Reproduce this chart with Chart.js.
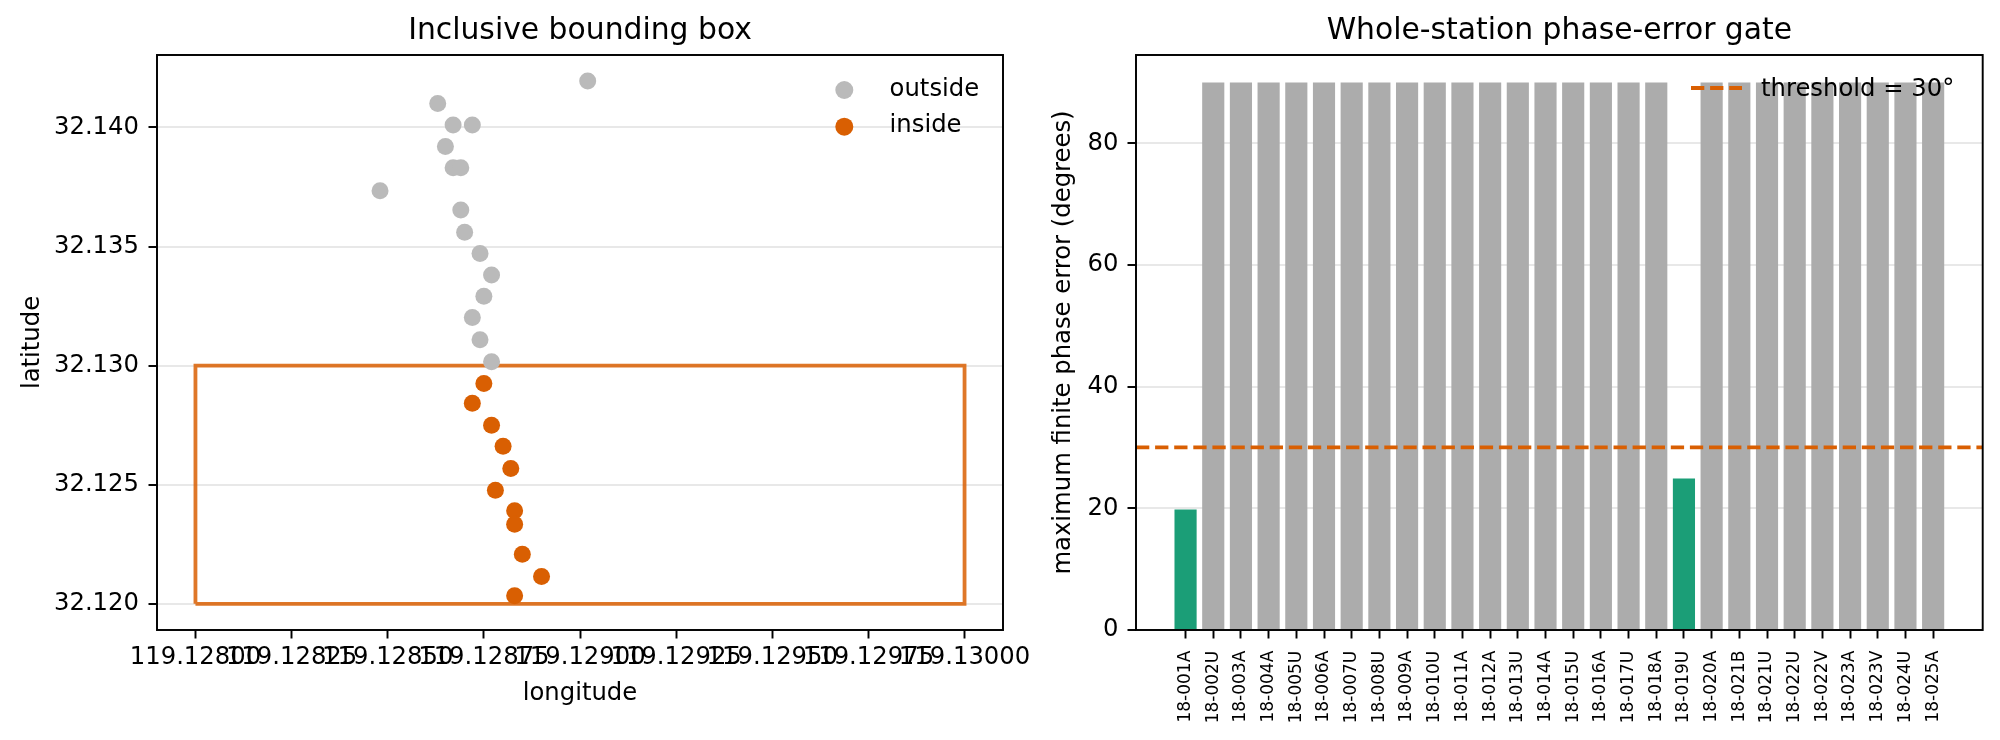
<!DOCTYPE html>
<html>
<head>
<meta charset="utf-8">
<script src="https://cdn.jsdelivr.net/npm/chart.js@4.4.1/dist/chart.umd.min.js"></script>
<style>
html, body { margin: 0; padding: 0; background: #ffffff; width: 2000px; height: 740px; overflow: hidden; }
#c1 { position: absolute; left: 0; top: 0; }
#c2 { position: absolute; left: 1020px; top: 0; }
</style>
</head>
<body>
<canvas id="c1" width="1060" height="740"></canvas>
<canvas id="c2" width="980" height="740"></canvas>
<script>
// ---------------- data: left panel ----------------
const outsideLon = [119.12902, 119.12863, 119.12867, 119.12872, 119.12865, 119.12867, 119.12869, 119.12848,
                    119.12869, 119.12870, 119.12874, 119.12877, 119.12875, 119.12872, 119.12874, 119.12877];
const outsideLat = [32.14195, 32.14100, 32.14010, 32.14010, 32.13920, 32.13831, 32.13831, 32.13734,
                    32.13653, 32.13560, 32.13471, 32.13380, 32.13291, 32.13202, 32.13109, 32.13016];
const insideLon = [119.12875, 119.12872, 119.12877, 119.12880, 119.12882, 119.12878,
                   119.12883, 119.12883, 119.12885, 119.12890, 119.12883];
const insideLat = [32.12925, 32.12842, 32.12750, 32.12661, 32.12568, 32.12477,
                   32.12391, 32.12334, 32.12208, 32.12115, 32.12034];
const boxLon = [119.128, 119.130, 119.130, 119.128, 119.128];
const boxLat = [32.120, 32.120, 32.130, 32.130, 32.120];
const lonTicks = [119.128, 119.12825, 119.1285, 119.12875, 119.129, 119.12925, 119.1295, 119.12975, 119.130];
const lonTickLabels = ['119.12800', '119.12825', '119.12850', '119.12875', '119.12900', '119.12925', '119.12950', '119.12975', '119.13000'];
const latTicks = [32.120, 32.125, 32.130, 32.135, 32.140];
const latTickLabels = ['32.120', '32.125', '32.130', '32.135', '32.140'];
const lonMin = 119.1279, lonMax = 119.1301;
const latMin = 32.1189, latMax = 32.14304;

// ---------------- data: right panel ----------------
const stations = ['18-001A','18-002U','18-003A','18-004A','18-005U','18-006A','18-007U','18-008U','18-009A',
                  '18-010U','18-011A','18-012A','18-013U','18-014A','18-015U','18-016A','18-017U','18-018A',
                  '18-019U','18-020A','18-021B','18-021U','18-022U','18-022V','18-023A','18-023V','18-024U','18-025A'];
const maxPhaseError = [19.8, 90, 90, 90, 90, 90, 90, 90, 90,
                       90, 90, 90, 90, 90, 90, 90, 90, 90,
                       24.9, 90, 90, 90, 90, 90, 90, 90, 90, 90];
const threshold = 30;
const phaseTicks = [0, 20, 40, 60, 80];
const phaseTickLabels = ['0', '20', '40', '60', '80'];
const barXMin = -1.79, barXMax = 28.79;
const phaseMin = 0, phaseMax = 94.5;

// ---------------- styles ----------------
const FAM = 'DejaVu Sans';
const TICK_PX = 24.3, TITLE_PX = 29.8, SMALL_PX = 17;
const C_GREY_PT = '#bababa', C_ORANGE = '#d95f02', C_BOX = 'rgba(217,95,2,0.85)';
const C_BAR_GREY = '#acacac', C_GREEN = '#1b9e77', C_GRID = '#e8e8e8';

Chart.defaults.font.family = FAM;
Chart.defaults.color = '#000';

const framePlugin = {
  id: 'frame',
  afterDatasetsDraw(chart) {
    const { ctx, chartArea: a } = chart;
    ctx.save();
    ctx.strokeStyle = '#000';
    ctx.lineWidth = 1.94;
    ctx.strokeRect(a.left, a.top, a.right - a.left, a.bottom - a.top);
    ctx.restore();
  }
};

const leftLegend = {
  id: 'leftLegend',
  afterDraw(chart) {
    const { ctx, chartArea: a } = chart;
    const items = [
      { label: chart.data.datasets[0].label, color: chart.data.datasets[0].backgroundColor },
      { label: chart.data.datasets[1].label, color: chart.data.datasets[1].backgroundColor }
    ];
    ctx.save();
    ctx.font = TICK_PX + 'px "' + FAM + '"';
    ctx.textBaseline = 'middle';
    ctx.textAlign = 'left';
    items.forEach((it, i) => {
      const y = a.top + 35 + i * 36.7;
      ctx.fillStyle = it.color;
      ctx.beginPath();
      ctx.arc(a.right - 158.7, y, 9, 0, Math.PI * 2);
      ctx.fill();
      ctx.fillStyle = '#000';
      ctx.fillText(it.label, a.right - 113.4, y - 0.7);
    });
    ctx.restore();
  }
};

const rightLegend = {
  id: 'rightLegend',
  afterDraw(chart) {
    const { ctx, chartArea: a } = chart;
    const ds = chart.data.datasets[0];
    ctx.save();
    ctx.strokeStyle = ds.borderColor;
    ctx.lineWidth = ds.borderWidth;
    ctx.setLineDash(ds.borderDash);
    ctx.beginPath();
    ctx.moveTo(a.right - 291.7, a.top + 33);
    ctx.lineTo(a.right - 240.7, a.top + 33);
    ctx.stroke();
    ctx.setLineDash([]);
    ctx.font = TICK_PX + 'px "' + FAM + '"';
    ctx.textBaseline = 'middle';
    ctx.textAlign = 'left';
    ctx.fillStyle = '#000';
    ctx.fillText(ds.label, a.right - 221.7, a.top + 34.3);
    ctx.restore();
  }
};

const tickFont = { family: FAM, size: TICK_PX };

// ---------------- left chart ----------------
new Chart(document.getElementById('c1'), {
  type: 'scatter',
  data: {
    datasets: [
      { label: 'outside', data: outsideLon.map((x, i) => ({ x: x, y: outsideLat[i] })),
        backgroundColor: C_GREY_PT, borderWidth: 0, pointRadius: 8.5, pointHoverRadius: 8.5, order: 0 },
      { label: 'inside', data: insideLon.map((x, i) => ({ x: x, y: insideLat[i] })),
        backgroundColor: C_ORANGE, borderWidth: 0, pointRadius: 8.5, pointHoverRadius: 8.5, order: 0 },
      { label: 'box', type: 'line', data: boxLon.map((x, i) => ({ x: x, y: boxLat[i] })),
        borderColor: C_BOX, borderWidth: 3.8, pointRadius: 0, fill: false, showLine: true, tension: 0, order: 1 }
    ]
  },
  options: {
    responsive: false, animation: false, devicePixelRatio: 1,
    layout: { padding: { left: 0, right: 57, top: 0, bottom: 0 } },
    plugins: {
      legend: { display: false },
      tooltip: { enabled: false },
      title: { display: true, text: 'Inclusive bounding box', fullSize: false, color: '#000',
               font: { family: FAM, size: TITLE_PX, weight: 'normal' }, padding: { top: 13.4, bottom: 5.84 } }
    },
    scales: {
      x: {
        type: 'linear', min: lonMin, max: lonMax,
        afterBuildTicks: s => { s.ticks = lonTicks.map(v => ({ value: v })); },
        afterFit: s => { s.height = 110; },
        ticks: { autoSkip: false, maxRotation: 0, minRotation: 0, padding: 4.9, font: tickFont, color: '#000',
                 callback: (v, i) => lonTickLabels[i] },
        grid: { drawOnChartArea: false, drawTicks: true, tickLength: 8.5, tickWidth: 1.94, tickColor: '#000' },
        border: { display: false },
        title: { display: true, text: 'longitude', color: '#000', font: { family: FAM, size: TICK_PX },
                 padding: { top: 0, bottom: 31.5 } }
      },
      y: {
        type: 'linear', min: latMin, max: latMax,
        afterBuildTicks: s => { s.ticks = latTicks.map(v => ({ value: v })); },
        afterFit: s => { s.width = 157; },
        ticks: { padding: 9.5, font: tickFont, color: '#000', callback: (v, i) => latTickLabels[i] },
        grid: { color: C_GRID, lineWidth: 2, drawTicks: true, tickLength: 8.5, tickWidth: 1.94, tickColor: '#000' },
        border: { display: false },
        title: { display: true, text: 'latitude', color: '#000', font: { family: FAM, size: TICK_PX },
                 padding: { top: 18, bottom: 0 } }
      }
    }
  },
  plugins: [framePlugin, leftLegend]
});

// ---------------- right chart ----------------
new Chart(document.getElementById('c2'), {
  type: 'bar',
  data: {
    datasets: [
      { label: 'threshold = 30°', type: 'line',
        data: [{ x: barXMin, y: threshold }, { x: barXMax, y: threshold }],
        borderColor: C_ORANGE, borderWidth: 3.8, borderDash: [13.3, 5.8], pointRadius: 0, fill: false, order: 0 },
      { label: 'max phase error', type: 'bar',
        data: stations.map((s, i) => ({ x: i, y: maxPhaseError[i] })),
        backgroundColor: maxPhaseError.map(v => v < threshold ? C_GREEN : C_BAR_GREY),
        borderWidth: 0, barPercentage: 0.8, categoryPercentage: 1.0, order: 1 }
    ]
  },
  options: {
    responsive: false, animation: false, devicePixelRatio: 1,
    layout: { padding: { left: 0, right: 17.3, top: 0, bottom: 0 } },
    plugins: {
      legend: { display: false },
      tooltip: { enabled: false },
      title: { display: true, text: 'Whole-station phase-error gate', fullSize: false, color: '#000',
               font: { family: FAM, size: TITLE_PX, weight: 'normal' }, padding: { top: 13.4, bottom: 5.84 } }
    },
    scales: {
      x: {
        type: 'linear', min: barXMin, max: barXMax, offset: false,
        afterBuildTicks: s => { s.ticks = stations.map((_, i) => ({ value: i })); },
        afterFit: s => { s.height = 110; },
        ticks: { autoSkip: false, maxRotation: 90, minRotation: 90, padding: 12.2,
                 font: { family: FAM, size: SMALL_PX }, color: '#000', callback: (v, i) => stations[i] },
        grid: { offset: false, drawOnChartArea: false, drawTicks: true, tickLength: 8.5, tickWidth: 1.94, tickColor: '#000' },
        border: { display: false }
      },
      y: {
        type: 'linear', min: phaseMin, max: phaseMax,
        afterBuildTicks: s => { s.ticks = phaseTicks.map(v => ({ value: v })); },
        afterFit: s => { s.width = 116; },
        ticks: { padding: 9, font: tickFont, color: '#000', callback: (v, i) => phaseTickLabels[i] },
        grid: { color: C_GRID, lineWidth: 2, drawTicks: true, tickLength: 8.5, tickWidth: 1.94, tickColor: '#000' },
        border: { display: false },
        title: { display: true, text: 'maximum finite phase error (degrees)', color: '#000',
                 font: { family: FAM, size: TICK_PX }, padding: { top: 29, bottom: 0 } }
      }
    }
  },
  plugins: [framePlugin, rightLegend]
});
</script>
</body>
</html>
